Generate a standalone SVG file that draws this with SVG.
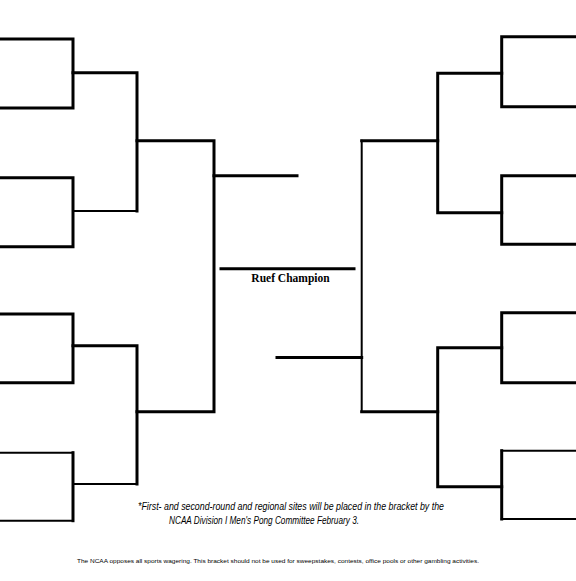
<svg xmlns="http://www.w3.org/2000/svg" width="576" height="581" viewBox="0 0 576 581">
<style>
.k{fill:none;stroke:#000;stroke-width:3;stroke-linejoin:miter;stroke-linecap:square}
.t{fill:none;stroke:#000;stroke-width:2;stroke-linecap:square}
.champ{font-family:"Liberation Serif","Times New Roman",serif;font-weight:bold;font-size:11.5px;fill:#000}
.note{font-family:"Liberation Sans",Arial,sans-serif;font-style:italic;font-size:10.5px;fill:#000}
.foot{font-family:"Liberation Sans",Arial,sans-serif;font-size:6px;fill:#000}
</style>
<rect width="576" height="581" fill="#fff"/>
<g id="connectors">
  <g id="left">
    <polyline class="k" points="0,39 73,39 73,108 0,108"/>
    <polyline class="k" points="73,72.7 137,72.7 137,211"/>
    <polyline class="k" points="0,177.7 73,177.7 73,246.7 0,246.7"/>
    <line class="t" x1="73" y1="211" x2="137" y2="211"/>
    <polyline class="k" points="137,140.7 214,140.7 214,411.7 137,411.7"/>
    <line class="k" x1="214" y1="175.7" x2="297" y2="175.7"/>
    <polyline class="k" points="0,314 73,314 73,382.7 0,382.7"/>
    <polyline class="k" points="73,345.7 137,345.7 137,484"/>
    <line class="t" x1="73" y1="484" x2="137" y2="484"/>
    <line class="t" x1="0" y1="452.7" x2="73" y2="452.7"/>
    <line class="k" x1="73" y1="452.7" x2="73" y2="520.7"/>
    <line class="t" x1="0" y1="520.7" x2="73" y2="520.7"/>
  </g>
  <g id="right">
    <polyline class="k" points="576,36.7 501.7,36.7 501.7,106.7 576,106.7"/>
    <polyline class="k" points="501.7,73.3 437.7,73.3 437.7,212.7 501.7,212.7"/>
    <polyline class="k" points="576,175.7 501.7,175.7 501.7,244.3 576,244.3"/>
    <line class="k" x1="437.7" y1="140.7" x2="361.7" y2="140.7"/>
    <line class="t" x1="361.7" y1="140.7" x2="361.7" y2="411.7"/>
    <line class="k" x1="361.7" y1="411.7" x2="437.7" y2="411.7"/>
    <line class="k" x1="277" y1="357.5" x2="361.7" y2="357.5"/>
    <polyline class="k" points="576,312.7 501.7,312.7 501.7,382.7 576,382.7"/>
    <polyline class="k" points="501.7,347.7 437.7,347.7 437.7,486.7 501.7,486.7"/>
    <line class="t" x1="576" y1="450.7" x2="501.7" y2="450.7"/>
    <line class="k" x1="501.7" y1="450.7" x2="501.7" y2="519"/>
    <line class="t" x1="501.7" y1="519" x2="576" y2="519"/>
  </g>
</g>
<g id="champion">
  <line class="k" x1="221" y1="268.7" x2="354" y2="268.7"/>
  <text class="champ" x="290.5" y="282" text-anchor="middle">Ruef Champion</text>
</g>
<g id="notes">
  <text class="note" x="138" y="509.5" textLength="306" lengthAdjust="spacingAndGlyphs">*First- and second-round and regional sites will be placed in the bracket by the</text>
  <text class="note" x="169" y="523.5" textLength="190" lengthAdjust="spacingAndGlyphs">NCAA Division I Men's Pong Committee February 3.</text>
  <text class="foot" x="77" y="563" textLength="402" lengthAdjust="spacingAndGlyphs">The NCAA opposes all sports wagering. This bracket should not be used for sweepstakes, contests, office pools or other gambling activities.</text>
</g>
</svg>
